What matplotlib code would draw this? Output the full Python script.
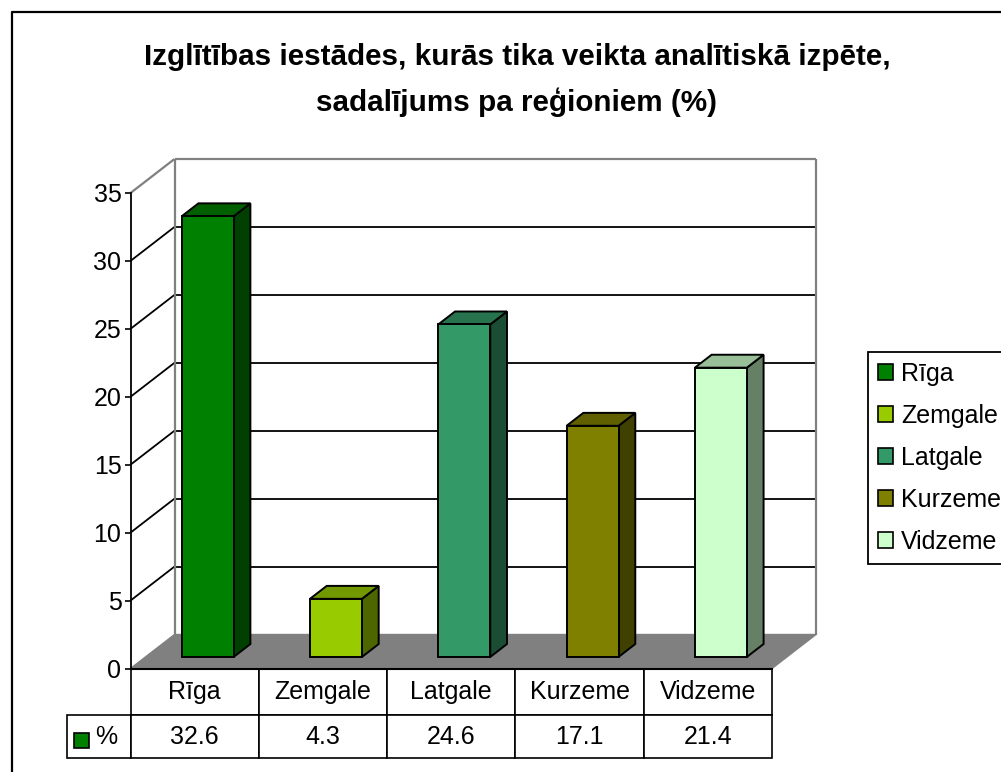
"""Izglitibas iestades pa regioniem: Excel-style 3D column chart with data table."""
import matplotlib
matplotlib.use("Agg")
import matplotlib.pyplot as plt
from matplotlib.colors import to_rgb
from matplotlib.patches import Patch, Polygon, Rectangle
from matplotlib.table import Table

plt.rcParams["font.family"] = ["Liberation Sans", "DejaVu Sans"]

regions = ["Rīga", "Zemgale", "Latgale", "Kurzeme", "Vidzeme"]
values = [32.6, 4.3, 24.6, 17.1, 21.4]
colors = ["#008000", "#99CC00", "#339966", "#808000", "#CCFFCC"]
yticks = [0, 5, 10, 15, 20, 25, 30, 35]
title = "Izglītības iestādes, kurās tika veikta analītiskā izpēte,\nsadalījums pa reģioniem (%)"

W, H = 1001, 772
L, R, B, T = 130.5, 772.0, 668.5, 193.0   # front plane, pixels
DX = 44 / (R - L) * 5                     # full depth in data units
DY = 34 / (B - T) * 35
BAR_W = 0.405
BAR_C = 0.485                             # bar centre inside its category
BAR_H = 0.995                             # excel rounds the bars a bit short
D0, D1 = 0.34, 0.72                       # bar front/back as a fraction of depth
FS = 18

fig = plt.figure(figsize=(W / 100, H / 100), dpi=100)
ax = fig.add_axes([L / W, 1 - B / H, (R - L) / W, (B - T) / H])
ax.set_xlim(0, 5); ax.set_ylim(0, 35)
ax.patch.set_visible(False)


def p(x, y, d):
    return (x + d * DX, y + d * DY)


def poly(pts, fc, ec="k", lw=1.4, z=3):
    ax.add_patch(Polygon(pts, closed=True, fc=fc, ec=ec, lw=lw, zorder=z, clip_on=False, joinstyle="miter"))


def line(a, b, c="k", lw=1.3, z=2):
    ax.plot([a[0], b[0]], [a[1], b[1]], color=c, lw=lw, zorder=z, clip_on=False, solid_capstyle="butt")


GRAY = "#808080"
# walls and floor
poly([p(0, 0, 0), p(5, 0, 0), p(5, 0, 1), p(0, 0, 1)], GRAY, GRAY, 1, 1)
for v in yticks[1:-1]:
    line(p(0, v, 0), p(0, v, 1))
    line(p(0, v, 1), p(5, v, 1))
line(p(0, 35, 0), p(0, 35, 1), GRAY, 1.6)
line(p(0, 35, 1), p(5, 35, 1), GRAY, 1.6)
line(p(0, 0, 1), p(0, 35, 1), GRAY, 1.6)
line(p(5, 0, 1), p(5, 35, 1), GRAY, 1.6)

# bars, painter's order
for i, (v, c) in enumerate(zip(values, colors)):
    x0 = i + BAR_C - BAR_W / 2
    x1 = x0 + BAR_W
    h = v * BAR_H
    rgb = to_rgb(c)
    side = tuple(k * 0.5 for k in rgb)
    top = tuple(k * 0.75 for k in rgb)
    if c == "#CCFFCC":
        side, top = "#668066", "#99BF99"
    poly([p(x1, 0, D0), p(x1, 0, D1), p(x1, h, D1), p(x1, h, D0)], side, z=3 + i)
    poly([p(x0, h, D0), p(x1, h, D0), p(x1, h, D1), p(x0, h, D1)], top, z=3 + i)
    poly([p(x0, 0, D0), p(x1, 0, D0), p(x1, h, D0), p(x0, h, D0)], c, z=3 + i)

# axis
for s in ["top", "right"]:
    ax.spines[s].set_visible(False)
ax.spines["left"].set_linewidth(1.3)
ax.spines["bottom"].set_linewidth(1.5)
ax.set_yticks(yticks)
ax.set_xticks([])
ax.tick_params(axis="y", length=4.5, width=1.2, labelsize=FS, pad=2)

# data table, axes fractions
key_w = 64 / (R - L)
col_w = 0.2
h1 = (715 - B) / (B - T)
h2 = (758 - 715) / (B - T)
tab = Table(ax, bbox=[-key_w, -(h1 + h2), 1 + key_w, h1 + h2])
tab.auto_set_font_size(False)
for c, (name, v) in enumerate(zip(regions, values), start=1):
    tab.add_cell(0, c, col_w, h1, text=name, loc="center")
    tab.add_cell(1, c, col_w, h2, text=f"{v}", loc="center")
tab.add_cell(1, 0, key_w, h2, text="%", loc="right")
tab.set_fontsize(FS)
for cell in tab.get_celld().values():
    cell.set_linewidth(1.2)
tab[(1, 0)].PAD = 0.2
ax.add_table(tab)
# swatch in the table's key cell
fig.add_artist(Rectangle((73.5 / W, 1 - 748 / H), 15 / W, 15 / H, transform=fig.transFigure,
                         fc=colors[0], ec="k", lw=1.2))

# legend
handles = [Patch(fc=c, ec="k", lw=1.2, label=n) for c, n in zip(colors, regions)]
leg = fig.legend(handles=handles, loc="upper left", bbox_to_anchor=(868 / W, 1 - 352 / H),
                 bbox_transform=fig.transFigure, fontsize=FS, handlelength=0.6, handleheight=0.6,
                 handletextpad=0.32, labelspacing=0.72, borderpad=0.4, borderaxespad=0,
                 fancybox=False, edgecolor="k", framealpha=1)
leg.get_frame().set_linewidth(1.3)

fig.text(517 / W, 1 - 80 / H, title, ha="center", va="center", fontsize=21.3, fontweight="bold", linespacing=1.72)

# chart-area border, cropped on the right and bottom
fig.add_artist(plt.Line2D([12 / W, 12 / W, 1], [0, 1 - 12 / H, 1 - 12 / H], color="k", lw=1.6))

fig.savefig("out.png", dpi=100)
